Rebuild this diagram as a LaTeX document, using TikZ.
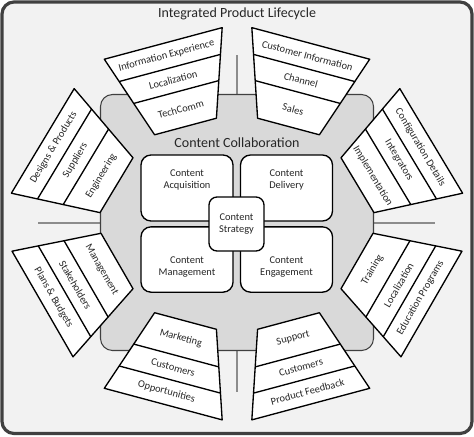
\documentclass[tikz,border=0pt]{standalone}
\usepackage{fontspec}
\setmainfont{Carlito}
\definecolor{framegray}{HTML}{404040}
\definecolor{bggray}{HTML}{F2F2F2}
\definecolor{midgray}{HTML}{D9D9D9}
\definecolor{guidegray}{HTML}{8C8C8C}
\definecolor{txt}{HTML}{262626}
\tikzset{
  funnelshape/.style={draw=black, fill=white, line width=1pt, line join=round},
  bandline/.style={draw=black, line width=1pt},
  bandtext/.style={font=\fontsize{7.8}{9}\selectfont, inner sep=0pt, text=txt},
  cbox/.style={draw=black, fill=white, line width=1pt, rounded corners=7.5pt, inner sep=0pt},
  boxtext/.style={font=\fontsize{7.8}{9.4}\selectfont, align=center, inner sep=0pt, text=txt},
  titletext/.style={font=\fontsize{10.5}{12}\selectfont, inner sep=0pt, text=txt},
  guide/.style={draw=guidegray, line width=1pt},
}
% #1,#2 inner-edge midpoint (px), #3 rotation, #4 text flip, #5 outer, #6 middle, #7 inner
\newcommand{\funnel}[7]{%
  \begin{scope}[shift={(#1,#2)}, rotate=#3]
    \draw[funnelshape] (-32,0) -- (32,0) -- (61,-86) -- (-61,-86) -- cycle;
    \draw[bandline] (-44.04,-35.7) -- (44.04,-35.7);
    \draw[bandline] (-52.45,-60.6) -- (52.45,-60.6);
    \node[bandtext, rotate=#3+#4] at (0,-17.8) {#7};
    \node[bandtext, rotate=#3+#4] at (0,-48.1) {#6};
    \node[bandtext, rotate=#3+#4] at (0,-73.3) {#5};
  \end{scope}}
\begin{document}
\begin{tikzpicture}[x=0.75pt, y=-0.75pt]
  \useasboundingbox (0,0) rectangle (474,436);
  % outer frame
  \draw[draw=framegray, fill=bggray, line width=2.4pt, rounded corners=9pt] (2,2) rectangle (472,433.5);
  \node[titletext] (title) at (237,14) {Integrated Product Lifecycle};
  % guide lines
  \draw[guide] (237,55) -- (237,95);
  \draw[guide] (237,350) -- (237,392);
  \draw[guide] (38,223) -- (101,223);
  \draw[guide] (373,223) -- (435,223);
  % inner collaboration area
  \draw[draw=framegray, fill=midgray, line width=0.8pt, rounded corners=9pt] (100.5,94.5) rectangle (373.5,350.5);
  \node[titletext] (collab) at (237,143) {Content Collaboration};
  % content boxes
  \node[cbox, minimum width=69pt, minimum height=49.5pt] (acq) at (187,188) {};
  \node[boxtext] at (187,180) {Content\\Acquisition};
  \node[cbox, minimum width=69pt, minimum height=49.5pt] (del) at (286.5,188) {};
  \node[boxtext] at (286.5,180) {Content\\Delivery};
  \node[cbox, minimum width=69pt, minimum height=49pt] (man) at (187,259.5) {};
  \node[boxtext] at (187,267) {Content\\Management};
  \node[cbox, minimum width=69pt, minimum height=49pt] (eng) at (286.5,259.5) {};
  \node[boxtext] at (286.5,267) {Content\\Engagement};
  \node[cbox, rounded corners=6pt, minimum width=41.25pt, minimum height=40.5pt] (strat) at (236.5,224) {};
  \node[boxtext] at (236.5,224) {Content\\Strategy};
  % funnels
  \funnel{185.5}{126.5}{15}{0}{Information Experience}{Localization}{TechComm}
  \funnel{288.5}{126.5}{-15}{0}{Customer Information}{Channel}{Sales}
  \funnel{357.5}{185.2}{-59}{0}{Configuration Details}{Integrators}{Implementation}
  \funnel{357}{261}{-120}{180}{Education Programs}{Localization}{Training}
  \funnel{288.5}{321}{-165}{180}{Product Feedback}{Customers}{Support}
  \funnel{185.5}{321}{165}{180}{Opportunities}{Customers}{Marketing}
  \funnel{117}{261}{120}{180}{Plans \& Budgets}{Stakeholders}{Management}
  \funnel{116.5}{185.2}{59}{0}{Designs \& Products}{Suppliers}{Engineering}
\end{tikzpicture}
\end{document}
